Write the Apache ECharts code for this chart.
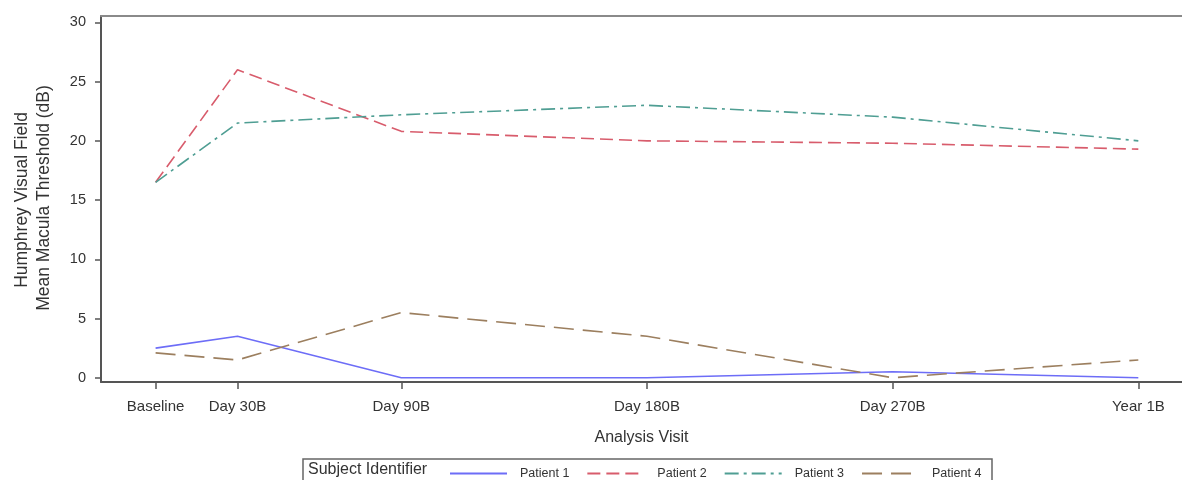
<!DOCTYPE html>
<html><head><meta charset="utf-8">
<script src="https://cdn.jsdelivr.net/npm/echarts@6/dist/echarts.min.js"></script>
<style>html,body{margin:0;padding:0;background:#fff}#c{width:1182px;height:480px}</style>
</head><body><div id="c"></div>
<script>
const visitDays = [0, 30, 90, 180, 270, 360];
const visitLabels = ['Baseline', 'Day 30B', 'Day 90B', 'Day 180B', 'Day 270B', 'Year 1B'];
const yTicks = [0, 5, 10, 15, 20, 25, 30];
const seriesNames = ['Patient 1', 'Patient 2', 'Patient 3', 'Patient 4'];
const patient1 = [2.5, 3.5, 0, 0, 0.5, 0];
const patient2 = [16.5, 26.0, 20.8, 20.0, 19.8, 19.3];
const patient3 = [16.5, 21.5, 22.2, 23.0, 22.0, 20.0];
const patient4 = [2.1, 1.5, 5.5, 3.5, 0, 1.5];
const seriesValues = [patient1, patient2, patient3, patient4];
const seriesColors = ['#6d6df7', '#d85c6c', '#4f9e93', '#9c7f5f'];
const seriesDash = ['solid', [13, 6], [14, 5, 3, 5], [20, 9]];

const FONT = "'Liberation Sans', Arial, sans-serif";
const chart = echarts.init(document.getElementById('c'), null, {renderer: 'canvas'});

const series = seriesNames.map((name, i) => ({
  name: name,
  type: 'line',
  symbol: 'none',
  data: visitDays.map((d, j) => [d, seriesValues[i][j]]),
  lineStyle: {color: seriesColors[i], width: 1.6, type: seriesDash[i]},
  itemStyle: {color: seriesColors[i]},
  animation: false
}));

const X_MIN = -20, X_MAX = 376;

chart.setOption({
  animation: false,
  backgroundColor: '#fff',
  textStyle: {fontFamily: FONT},
  grid: {left: 101, top: 16, right: 0, height: 366, show: false, containLabel: false},
  xAxis: [{
    type: 'value', min: X_MIN, max: X_MAX, position: 'bottom',
    name: 'Analysis Visit', nameLocation: 'middle', nameGap: 48,
    nameTextStyle: {fontSize: 16, color: '#333', fontFamily: FONT},
    axisLine: {onZero: false, lineStyle: {color: '#555', width: 2}},
    axisTick: {show: true, length: 7, lineStyle: {color: '#555', width: 1.5}, customValues: visitDays},
    axisLabel: {customValues: visitDays, margin: 17, fontSize: 15, color: '#333', fontFamily: FONT,
      formatter: v => visitLabels[visitDays.indexOf(v)] || ''},
    splitLine: {show: false}
  }, {
    type: 'value', min: X_MIN, max: X_MAX, position: 'top',
    axisLine: {show: true, onZero: false, lineStyle: {color: '#8a8a8a', width: 2}},
    axisTick: {show: false}, axisLabel: {show: false}, splitLine: {show: false}
  }],
  yAxis: {
    type: 'value', min: -0.36, max: 30.54,
    axisLine: {show: true, onZero: false, lineStyle: {color: '#555', width: 2}},
    axisTick: {show: true, length: 6, lineStyle: {color: '#555', width: 1.5}, customValues: yTicks},
    axisLabel: {customValues: yTicks, margin: 15, fontSize: 14.5, color: '#333', fontFamily: FONT},
    splitLine: {show: false}
  },
  legend: {
    data: seriesNames, left: 444, top: 462, itemWidth: 57, itemHeight: 10, itemGap: 17,
    itemStyle: {opacity: 0},
    textStyle: {fontSize: 12.5, color: '#333', fontFamily: FONT, padding: [0, 0, 0, 8]}
  },
  graphic: [
    {type: 'rect', shape: {x: 303, y: 459, width: 689, height: 40}, style: {fill: 'none', stroke: '#666', lineWidth: 1.5}, silent: true},
    {type: 'text', x: 308, y: 470, style: {text: 'Subject Identifier', fontSize: 16, fill: '#333', fontFamily: FONT, verticalAlign: 'middle'}, silent: true},
    {type: 'text', x: 22, y: 200, rotation: Math.PI / 2, style: {text: 'Humphrey Visual Field', fontSize: 17.5, fill: '#333', fontFamily: FONT, align: 'center', verticalAlign: 'middle'}, silent: true},
    {type: 'text', x: 44, y: 198, rotation: Math.PI / 2, style: {text: 'Mean Macula Threshold (dB)', fontSize: 17.5, fill: '#333', fontFamily: FONT, align: 'center', verticalAlign: 'middle'}, silent: true}
  ],
  series: series
});
</script></body></html>
